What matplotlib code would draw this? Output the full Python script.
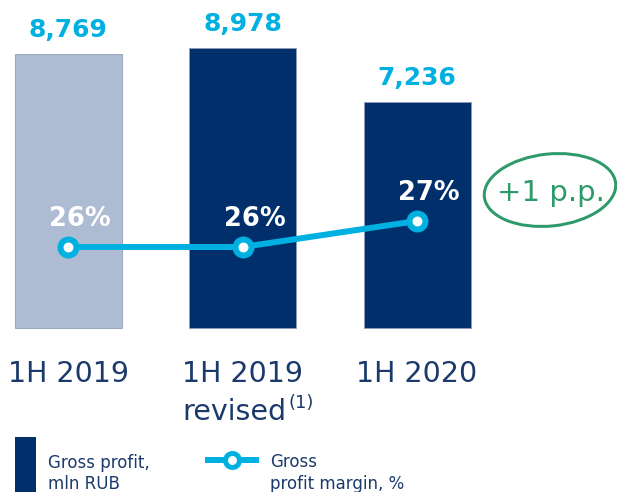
import matplotlib
matplotlib.use("Agg")
import matplotlib.pyplot as plt
from matplotlib.patches import Rectangle, Ellipse
from matplotlib.lines import Line2D
from matplotlib.transforms import IdentityTransform

# ---- data ----
categories = ["1H 2019", "1H 2019", "1H 2020"]
sub_labels = ["", "revised", ""]
gross_profit = [8769, 8978, 7236]
value_labels = ["8,769", "8,978", "7,236"]
margin = [26, 26, 27]
margin_labels = ["26%", "26%", "27%"]
callout = "+1 p.p."
legend_bar = ["Gross profit,", "mln RUB"]
legend_line = ["Gross", "profit margin, %"]

NAVY = "#002F6C"
LIGHT = "#ADBCD2"
CYAN = "#00B0E0"
TEXT = "#1B3A6B"
GREEN = "#2E9A6A"

W, H, DPI = 617, 492, 100
fig = plt.figure(figsize=(W / DPI, H / DPI), dpi=DPI)
plt.rcParams["font.family"] = ["DejaVu Sans"]

def px(p):  # pixels -> points
    return p * 72.0 / DPI

ax = fig.add_axes([0, 0, 1, 1])
ax.set_axis_off()
# x: centers at pixels 68, 243, 417 -> 174.5 px per unit
ppx = 174.5
ax.set_xlim(-68 / ppx, (W - 68) / ppx)
# y: value 0 at pixel 328 (from top), 0.0312 px per unit
ppy = 0.0312
ax.set_ylim(-(H - 328) / ppy, 328 / ppy)

x = list(range(len(categories)))
colors = [LIGHT, NAVY, NAVY]
ax.bar(x, gross_profit, width=107 / ppx, color=colors, edgecolor="#8E9DB8", linewidth=0.6, zorder=1)

for xi, v, lab in zip(x, gross_profit, value_labels):
    ax.annotate(lab, (xi, v), xytext=(0, px(12)), textcoords="offset points",
                ha="center", va="bottom", fontsize=18, fontweight="bold", color=CYAN)

for xi, c, s in zip(x, categories, sub_labels):
    ax.annotate(c, (xi, 0), xytext=(0, -px(54)), textcoords="offset points",
                ha="center", va="baseline", fontsize=20.5, color=TEXT)
    if s:
        ax.annotate(s, (xi, 0), xytext=(px(44), -px(92)), textcoords="offset points",
                    ha="right", va="baseline", fontsize=20.5, color=TEXT)
        ax.annotate("(1)", (xi, 0), xytext=(px(46), -px(80)), textcoords="offset points",
                    ha="left", va="baseline", fontsize=13, color=TEXT)

# ---- margin line on twin axis ----
ax2 = ax.twinx()
ax2.set_axis_off()
ppp = 26.0  # px per percentage point, 26% at pixel 247
ax2.set_ylim(26 - (H - 247) / ppp, 26 + 247 / ppp)
ax2.plot(x, margin, color=CYAN, lw=px(6), marker="o", markersize=px(16),
         markerfacecolor="white", markeredgecolor=CYAN, markeredgewidth=px(6),
         solid_capstyle="butt", zorder=3)
for xi, m, lab in zip(x, margin, margin_labels):
    ax2.annotate(lab, (xi, m), xytext=(px(12), px(28)), textcoords="offset points",
                 ha="center", va="center", fontsize=18.5, fontweight="bold", color="white")

# ---- callout ----
fig.canvas.draw()
cx, cy = ax2.transData.transform((x[-1], margin[-1]))
ell = Ellipse((cx + 133, cy + 31), 132, 72, angle=6, transform=IdentityTransform(),
              fill=False, edgecolor=GREEN, lw=px(3))
fig.add_artist(ell)
ax2.annotate(callout, (x[-1], margin[-1]), xytext=(px(134), px(28)), textcoords="offset points",
             ha="center", va="center", fontsize=21, color=GREEN)

# ---- legend ----
fig.add_artist(Rectangle((15 / W, 0), 21 / W, 55 / H, transform=fig.transFigure,
                         facecolor=NAVY, edgecolor="none"))
fig.text(48 / W, 1 - 463 / H, legend_bar[0], fontsize=12, color=TEXT, va="center", ha="left")
fig.text(48 / W, 1 - 484 / H, legend_bar[1], fontsize=12, color=TEXT, va="center", ha="left")
fig.add_artist(Line2D([208 / W, 256 / W], [1 - 460 / H, 1 - 460 / H], transform=fig.transFigure,
                      color=CYAN, lw=px(6)))
fig.add_artist(Line2D([232 / W], [1 - 460 / H], transform=fig.transFigure, marker="o",
                      markersize=px(14), markerfacecolor="white", markeredgecolor=CYAN,
                      markeredgewidth=px(5), linestyle="none"))
fig.text(270 / W, 1 - 462 / H, legend_line[0], fontsize=12, color=TEXT, va="center", ha="left")
fig.text(270 / W, 1 - 484 / H, legend_line[1], fontsize=12, color=TEXT, va="center", ha="left")

fig.savefig("out.png", dpi=DPI, facecolor="white")
